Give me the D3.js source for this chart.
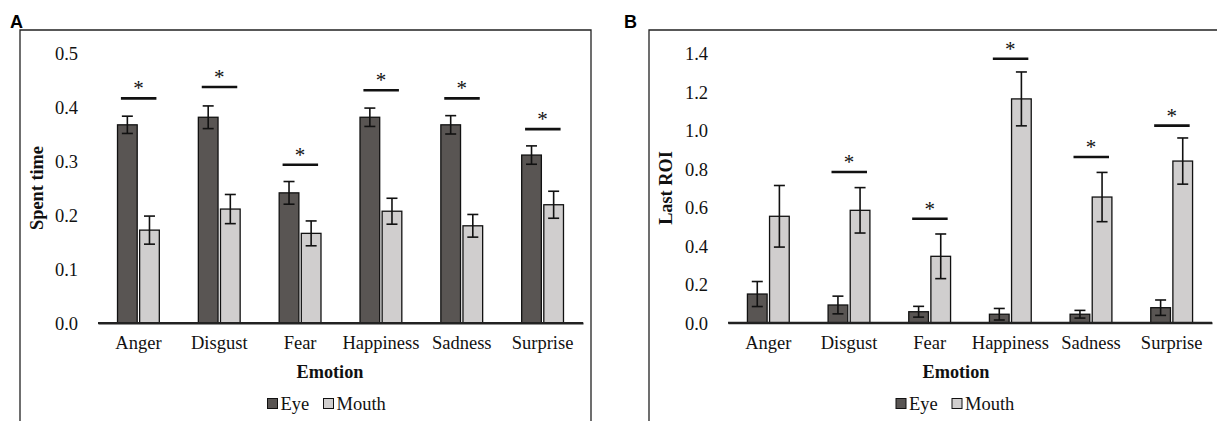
<!DOCTYPE html>
<html><head><meta charset="utf-8">
<script src="https://cdn.jsdelivr.net/npm/d3@7"></script>
<style>body{margin:0;background:#fff}svg{display:block}</style>
</head><body>
<svg id="c" width="1217" height="421"></svg>
<script>
const categories = ["Anger","Disgust","Fear","Happiness","Sadness","Surprise"];
const seriesNames = ["Eye","Mouth"];
// Panel A: Spent time
const spentEye = [0.367,0.381,0.241,0.381,0.367,0.311];
const spentEyeErr = [0.016,0.021,0.021,0.017,0.017,0.017];
const spentMouth = [0.172,0.211,0.166,0.207,0.180,0.219];
const spentMouthErr = [0.026,0.027,0.023,0.024,0.021,0.025];
const spentSig = [0.416,0.437,0.293,0.431,0.416,0.359];
const spentTicks = [0,0.1,0.2,0.3,0.4,0.5];
// Panel B: Last ROI
const roiEye = [0.149,0.092,0.057,0.044,0.044,0.078];
const roiEyeErr = [0.065,0.046,0.028,0.030,0.020,0.040];
const roiMouth = [0.553,0.584,0.345,1.163,0.653,0.840];
const roiMouthErr = [0.160,0.118,0.116,0.140,0.128,0.120];
const roiSig = [null,0.783,0.540,1.372,0.861,1.024];
const roiTicks = [0,0.2,0.4,0.6,0.8,1.0,1.2,1.4];

const colors = {Eye:"#595553", Mouth:"#d0cece"};
const serif = "'Liberation Serif','Times New Roman',serif";
const svg = d3.select("#c");

function panel(o){
  const g = svg.append("g");
  g.append("path").attr("d", o.frame).attr("fill","none").attr("stroke","#222").attr("stroke-width",1.3);
  g.append("text").attr("x",o.letterX).attr("y",28).text(o.letter)
    .attr("font-family","'Liberation Sans',Arial,sans-serif").attr("font-weight","bold").attr("font-size",18);
  const x = d3.scaleBand().domain(categories).range([o.x0,o.x1]).paddingInner(0).paddingOuter(0);
  const y = d3.scaleLinear().domain([0,o.max]).range([o.yBottom,o.yTop]);
  const sub = d3.scaleBand().domain(seriesNames).range([-24,24]).paddingInner(0.11).paddingOuter(0.14);
  const yAxis = d3.axisLeft(y).tickValues(o.ticks).tickFormat(d3.format(".1f")).tickSize(0).tickPadding(0);
  const ya = g.append("g").attr("transform",`translate(${o.tickRight},0)`).call(yAxis);
  ya.select(".domain").remove();
  ya.selectAll("text").attr("font-family",serif).attr("font-size",18.5).attr("fill","#111").attr("dy","0.35em");
  const xAxis = d3.axisBottom(x).tickSize(0).tickPadding(13);
  const xa = g.append("g").attr("transform",`translate(0,${o.yBottom})`).call(xAxis);
  xa.select(".domain").attr("stroke","#222").attr("stroke-width",2);
  xa.selectAll("text").attr("font-family",serif).attr("font-size",18.5).attr("fill","#111");
  const data = [];
  categories.forEach((c,i)=>{
    data.push({c, s:"Eye", v:o.eye[i], e:o.eyeErr[i]});
    data.push({c, s:"Mouth", v:o.mouth[i], e:o.mouthErr[i]});
  });
  const cx = d => x(d.c) + x.bandwidth()/2 + sub(d.s);
  g.selectAll(".bar").data(data).join("rect")
    .attr("x", d=>cx(d)).attr("width", sub.bandwidth())
    .attr("y", d=>y(d.v)).attr("height", d=>y(0)-y(d.v))
    .attr("fill", d=>colors[d.s]).attr("stroke","#111").attr("stroke-width",1.3);
  g.append("line").attr("x1",o.x0).attr("x2",o.x1).attr("y1",o.yBottom).attr("y2",o.yBottom).attr("stroke","#222").attr("stroke-width",2);
  const eb = g.selectAll(".eb").data(data).join("g").attr("stroke","#111").attr("stroke-width",1.6);
  const mid = d => cx(d) + sub.bandwidth()/2;
  eb.append("line").attr("x1",mid).attr("x2",mid).attr("y1",d=>y(d.v+d.e)).attr("y2",d=>y(d.v-d.e));
  eb.append("line").attr("x1",d=>mid(d)-5.5).attr("x2",d=>mid(d)+5.5).attr("y1",d=>y(d.v+d.e)).attr("y2",d=>y(d.v+d.e));
  eb.append("line").attr("x1",d=>mid(d)-5.5).attr("x2",d=>mid(d)+5.5).attr("y1",d=>y(d.v-d.e)).attr("y2",d=>y(d.v-d.e));
  const sig = categories.map((c,i)=>({c, v:o.sig[i]})).filter(d=>d.v!=null);
  const sg = g.selectAll(".sig").data(sig).join("g");
  sg.append("line").attr("x1",d=>x(d.c)+x.bandwidth()/2-17.5).attr("x2",d=>x(d.c)+x.bandwidth()/2+18)
    .attr("y1",d=>y(d.v)).attr("y2",d=>y(d.v)).attr("stroke","#111").attr("stroke-width",2.6);
  sg.append("text").attr("x",d=>x(d.c)+x.bandwidth()/2).attr("y",d=>y(d.v)-3).attr("text-anchor","middle")
    .attr("font-family",serif).attr("font-size",21).attr("fill","#111").text("*");
  const yc = (o.yTop+o.yBottom)/2;
  g.append("text").attr("transform",`translate(${o.yTitleX},${yc}) rotate(-90)`).attr("text-anchor","middle")
    .attr("dy","0.35em").attr("font-family",serif).attr("font-weight","bold").attr("font-size",18.3).attr("fill","#111").text(o.yTitle);
  g.append("text").attr("x",o.xTitleX).attr("y",378).attr("text-anchor","middle")
    .attr("font-family",serif).attr("font-weight","bold").attr("font-size",18.3).attr("fill","#111").text("Emotion");
  const lg = g.append("g").attr("transform",`translate(${o.legX},0)`);
  const items = [{s:"Eye",dx:0},{s:"Mouth",dx:o.legGap}];
  items.forEach(it=>{
    lg.append("rect").attr("x",it.dx).attr("y",398.5).attr("width",10).attr("height",10)
      .attr("fill",colors[it.s]).attr("stroke","#111").attr("stroke-width",1);
    lg.append("text").attr("x",it.dx+13).attr("y",410).attr("font-family",serif).attr("font-size",18.5).attr("fill","#111").text(it.s);
  });
}

panel({letter:"A", letterX:10, frame:"M20,440 V30 H591 V440",
  x0:98, x1:583, yTop:53, yBottom:323, max:0.5, ticks:spentTicks, tickRight:78,
  eye:spentEye, eyeErr:spentEyeErr, mouth:spentMouth, mouthErr:spentMouthErr, sig:spentSig,
  yTitle:"Spent time", yTitleX:37, xTitleX:330, legX:267.5, legGap:56});
panel({letter:"B", letterX:624, frame:"M649,440 V30 H1230",
  x0:728, x1:1212, yTop:53.3, yBottom:322.7, max:1.4, ticks:roiTicks, tickRight:708,
  eye:roiEye, eyeErr:roiEyeErr, mouth:roiMouth, mouthErr:roiMouthErr, sig:roiSig,
  yTitle:"Last ROI", yTitleX:666, xTitleX:956, legX:896, legGap:56});
</script>
</body></html>
